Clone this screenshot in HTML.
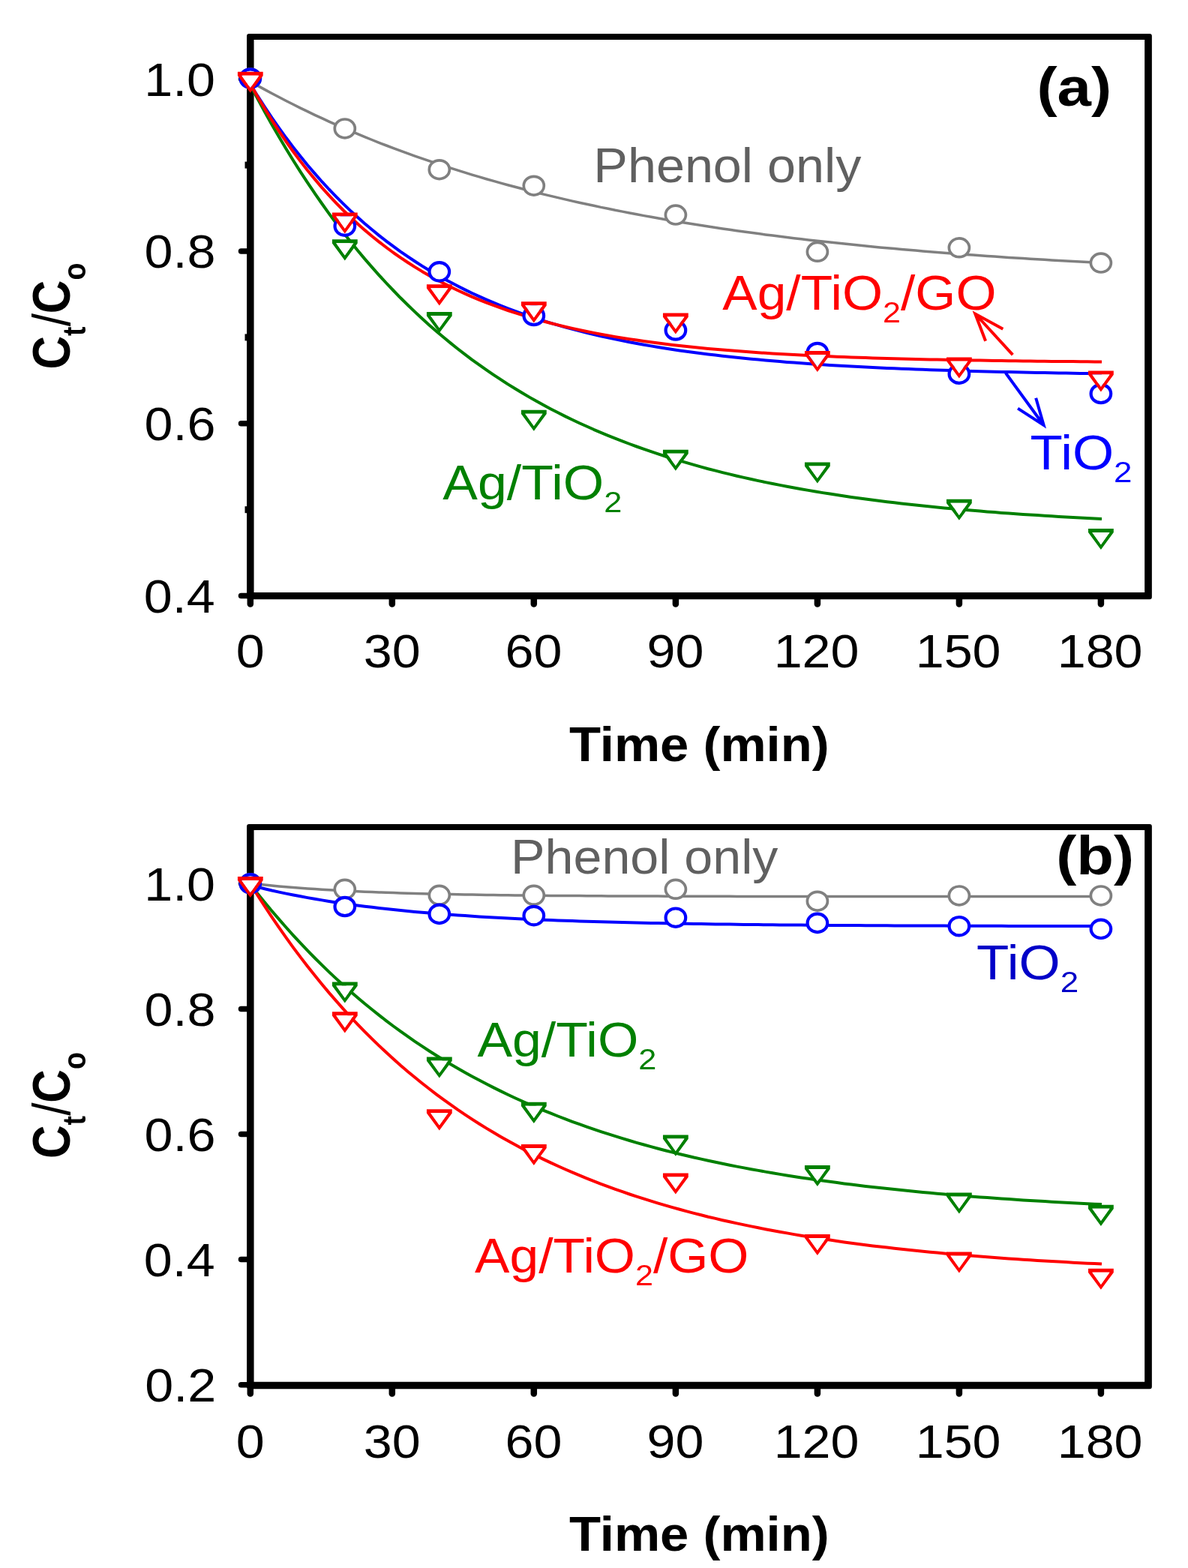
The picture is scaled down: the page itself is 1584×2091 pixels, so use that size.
<!DOCTYPE html>
<html><head><meta charset="utf-8"><title>Figure</title>
<style>html,body{margin:0;padding:0;background:#fff;}body{width:1584px;height:2091px;overflow:hidden;}</style>
</head><body>
<svg width="1584" height="2091" viewBox="0 0 1584 2091" style="display:block">
<rect width="1584" height="2091" fill="#fff"/>
<g font-family='"Liberation Sans", Arial, sans-serif'>
<path d="M332.05 45.00 H1532.85 Q1535.85 45.00 1535.85 48.00 V796.25 Q1535.85 799.25 1532.85 799.25 H332.05 Q329.05 799.25 329.05 796.25 V48.00 Q329.05 45.00 332.05 45.00 Z M338.55 53.00 H1526.15 V789.95 H338.55 Z" fill="#000" fill-rule="evenodd"/>
<g stroke="#000" stroke-linecap="round" fill="none">
<path d="M333.8 794.6 H321.5" stroke-width="7.5"/>
<path d="M333.8 564.8 H321.5" stroke-width="7.5"/>
<path d="M333.8 335.0 H321.5" stroke-width="7.5"/>
<path d="M333.8 105.2 H321.5" stroke-width="7.5"/>
<path d="M333.8 794.6 V805.6" stroke-width="8.5"/>
<path d="M522.8 794.6 V805.6" stroke-width="8.5"/>
<path d="M711.8 794.6 V805.6" stroke-width="8.5"/>
<path d="M900.9 794.6 V805.6" stroke-width="8.5"/>
<path d="M1089.9 794.6 V805.6" stroke-width="8.5"/>
<path d="M1278.9 794.6 V805.6" stroke-width="8.5"/>
<path d="M1467.9 794.6 V805.6" stroke-width="8.5"/>
</g>
<rect x="326.5" y="675.2" width="4" height="9" fill="#000"/>
<rect x="326.5" y="445.4" width="4" height="9" fill="#000"/>
<rect x="326.5" y="215.6" width="4" height="9" fill="#000"/>
<path d="M333.8 108.8 L343.3 114.1 L352.9 119.4 L362.4 124.5 L372.0 129.5 L381.5 134.5 L391.0 139.3 L400.6 144.1 L410.1 148.7 L419.7 153.3 L429.2 157.7 L438.7 162.1 L448.3 166.4 L457.8 170.5 L467.4 174.7 L476.9 178.7 L486.4 182.6 L496.0 186.5 L505.5 190.3 L515.1 194.0 L524.6 197.6 L534.1 201.2 L543.7 204.7 L553.2 208.1 L562.7 211.4 L572.3 214.7 L581.8 217.9 L591.4 221.1 L600.9 224.2 L610.4 227.2 L620.0 230.2 L629.5 233.1 L639.1 235.9 L648.6 238.7 L658.1 241.4 L667.7 244.1 L677.2 246.7 L686.8 249.3 L696.3 251.8 L705.8 254.3 L715.4 256.7 L724.9 259.1 L734.5 261.4 L744.0 263.6 L753.5 265.9 L763.1 268.1 L772.6 270.2 L782.2 272.3 L791.7 274.3 L801.2 276.4 L810.8 278.3 L820.3 280.3 L829.9 282.1 L839.4 284.0 L848.9 285.8 L858.5 287.6 L868.0 289.3 L877.6 291.0 L887.1 292.7 L896.6 294.4 L906.2 296.0 L915.7 297.5 L925.2 299.1 L934.8 300.6 L944.3 302.1 L953.9 303.5 L963.4 304.9 L972.9 306.3 L982.5 307.7 L992.0 309.0 L1001.6 310.3 L1011.1 311.6 L1020.6 312.9 L1030.2 314.1 L1039.7 315.3 L1049.3 316.5 L1058.8 317.7 L1068.3 318.8 L1077.9 319.9 L1087.4 321.0 L1097.0 322.1 L1106.5 323.1 L1116.0 324.1 L1125.6 325.1 L1135.1 326.1 L1144.7 327.1 L1154.2 328.0 L1163.7 329.0 L1173.3 329.9 L1182.8 330.8 L1192.4 331.6 L1201.9 332.5 L1211.4 333.3 L1221.0 334.1 L1230.5 334.9 L1240.1 335.7 L1249.6 336.5 L1259.1 337.2 L1268.7 338.0 L1278.2 338.7 L1287.7 339.4 L1297.3 340.1 L1306.8 340.8 L1316.4 341.5 L1325.9 342.1 L1335.4 342.8 L1345.0 343.4 L1354.5 344.0 L1364.1 344.6 L1373.6 345.2 L1383.1 345.8 L1392.7 346.3 L1402.2 346.9 L1411.8 347.4 L1421.3 348.0 L1430.8 348.5 L1440.4 349.0 L1449.9 349.5 L1459.5 350.0 L1469.0 350.5" fill="none" stroke="#808080" stroke-width="3.5" stroke-linejoin="round"/>
<path d="M333.8 113.3 L343.3 131.4 L352.9 149.0 L362.4 166.0 L372.0 182.5 L381.5 198.5 L391.0 214.0 L400.6 229.1 L410.1 243.6 L419.7 257.8 L429.2 271.5 L438.7 284.8 L448.3 297.7 L457.8 310.1 L467.4 322.3 L476.9 334.0 L486.4 345.4 L496.0 356.4 L505.5 367.1 L515.1 377.5 L524.6 387.5 L534.1 397.3 L543.7 406.7 L553.2 415.9 L562.7 424.8 L572.3 433.4 L581.8 441.7 L591.4 449.8 L600.9 457.6 L610.4 465.2 L620.0 472.6 L629.5 479.8 L639.1 486.7 L648.6 493.4 L658.1 499.9 L667.7 506.2 L677.2 512.4 L686.8 518.3 L696.3 524.0 L705.8 529.6 L715.4 535.0 L724.9 540.3 L734.5 545.4 L744.0 550.3 L753.5 555.1 L763.1 559.7 L772.6 564.2 L782.2 568.5 L791.7 572.8 L801.2 576.8 L810.8 580.8 L820.3 584.7 L829.9 588.4 L839.4 592.0 L848.9 595.5 L858.5 598.9 L868.0 602.2 L877.6 605.4 L887.1 608.5 L896.6 611.5 L906.2 614.4 L915.7 617.2 L925.2 619.9 L934.8 622.6 L944.3 625.2 L953.9 627.6 L963.4 630.1 L972.9 632.4 L982.5 634.7 L992.0 636.9 L1001.6 639.0 L1011.1 641.1 L1020.6 643.1 L1030.2 645.0 L1039.7 646.9 L1049.3 648.7 L1058.8 650.5 L1068.3 652.2 L1077.9 653.9 L1087.4 655.5 L1097.0 657.1 L1106.5 658.6 L1116.0 660.1 L1125.6 661.5 L1135.1 662.9 L1144.7 664.2 L1154.2 665.5 L1163.7 666.8 L1173.3 668.0 L1182.8 669.2 L1192.4 670.3 L1201.9 671.4 L1211.4 672.5 L1221.0 673.5 L1230.5 674.6 L1240.1 675.5 L1249.6 676.5 L1259.1 677.4 L1268.7 678.3 L1278.2 679.2 L1287.7 680.0 L1297.3 680.8 L1306.8 681.6 L1316.4 682.4 L1325.9 683.1 L1335.4 683.9 L1345.0 684.6 L1354.5 685.2 L1364.1 685.9 L1373.6 686.5 L1383.1 687.1 L1392.7 687.7 L1402.2 688.3 L1411.8 688.9 L1421.3 689.4 L1430.8 690.0 L1440.4 690.5 L1449.9 691.0 L1459.5 691.5 L1469.0 691.9" fill="none" stroke="#008000" stroke-width="4.0" stroke-linejoin="round"/>
<path d="M333.8 112.2 L343.3 127.7 L352.9 142.6 L362.4 156.9 L372.0 170.6 L381.5 183.8 L391.0 196.4 L400.6 208.6 L410.1 220.2 L419.7 231.4 L429.2 242.2 L438.7 252.5 L448.3 262.4 L457.8 271.9 L467.4 281.1 L476.9 289.8 L486.4 298.3 L496.0 306.3 L505.5 314.1 L515.1 321.6 L524.6 328.7 L534.1 335.6 L543.7 342.2 L553.2 348.5 L562.7 354.6 L572.3 360.5 L581.8 366.1 L591.4 371.5 L600.9 376.6 L610.4 381.6 L620.0 386.4 L629.5 391.0 L639.1 395.4 L648.6 399.6 L658.1 403.6 L667.7 407.5 L677.2 411.3 L686.8 414.9 L696.3 418.3 L705.8 421.6 L715.4 424.8 L724.9 427.8 L734.5 430.8 L744.0 433.6 L753.5 436.3 L763.1 438.9 L772.6 441.4 L782.2 443.7 L791.7 446.0 L801.2 448.2 L810.8 450.4 L820.3 452.4 L829.9 454.3 L839.4 456.2 L848.9 458.0 L858.5 459.7 L868.0 461.4 L877.6 463.0 L887.1 464.5 L896.6 466.0 L906.2 467.4 L915.7 468.7 L925.2 470.0 L934.8 471.3 L944.3 472.5 L953.9 473.6 L963.4 474.7 L972.9 475.8 L982.5 476.8 L992.0 477.8 L1001.6 478.7 L1011.1 479.6 L1020.6 480.5 L1030.2 481.3 L1039.7 482.1 L1049.3 482.9 L1058.8 483.6 L1068.3 484.3 L1077.9 485.0 L1087.4 485.7 L1097.0 486.3 L1106.5 486.9 L1116.0 487.5 L1125.6 488.0 L1135.1 488.6 L1144.7 489.1 L1154.2 489.6 L1163.7 490.0 L1173.3 490.5 L1182.8 490.9 L1192.4 491.3 L1201.9 491.7 L1211.4 492.1 L1221.0 492.5 L1230.5 492.8 L1240.1 493.2 L1249.6 493.5 L1259.1 493.8 L1268.7 494.1 L1278.2 494.4 L1287.7 494.7 L1297.3 494.9 L1306.8 495.2 L1316.4 495.5 L1325.9 495.7 L1335.4 495.9 L1345.0 496.1 L1354.5 496.3 L1364.1 496.5 L1373.6 496.7 L1383.1 496.9 L1392.7 497.1 L1402.2 497.3 L1411.8 497.4 L1421.3 497.6 L1430.8 497.7 L1440.4 497.9 L1449.9 498.0 L1459.5 498.2 L1469.0 498.3" fill="none" stroke="#0000ff" stroke-width="4.0" stroke-linejoin="round"/>
<path d="M333.8 111.8 L343.3 128.7 L352.9 144.8 L362.4 160.2 L372.0 174.9 L381.5 188.9 L391.0 202.3 L400.6 215.1 L410.1 227.3 L419.7 238.9 L429.2 250.1 L438.7 260.7 L448.3 270.8 L457.8 280.5 L467.4 289.7 L476.9 298.5 L486.4 306.9 L496.0 315.0 L505.5 322.6 L515.1 330.0 L524.6 337.0 L534.1 343.6 L543.7 350.0 L553.2 356.1 L562.7 361.9 L572.3 367.4 L581.8 372.7 L591.4 377.7 L600.9 382.6 L610.4 387.2 L620.0 391.6 L629.5 395.8 L639.1 399.8 L648.6 403.6 L658.1 407.2 L667.7 410.7 L677.2 414.0 L686.8 417.2 L696.3 420.2 L705.8 423.1 L715.4 425.9 L724.9 428.5 L734.5 431.0 L744.0 433.4 L753.5 435.7 L763.1 437.9 L772.6 440.0 L782.2 442.0 L791.7 443.9 L801.2 445.7 L810.8 447.4 L820.3 449.1 L829.9 450.7 L839.4 452.2 L848.9 453.6 L858.5 455.0 L868.0 456.3 L877.6 457.6 L887.1 458.8 L896.6 459.9 L906.2 461.0 L915.7 462.0 L925.2 463.0 L934.8 464.0 L944.3 464.9 L953.9 465.7 L963.4 466.6 L972.9 467.3 L982.5 468.1 L992.0 468.8 L1001.6 469.5 L1011.1 470.2 L1020.6 470.8 L1030.2 471.4 L1039.7 471.9 L1049.3 472.5 L1058.8 473.0 L1068.3 473.5 L1077.9 474.0 L1087.4 474.4 L1097.0 474.9 L1106.5 475.3 L1116.0 475.7 L1125.6 476.0 L1135.1 476.4 L1144.7 476.7 L1154.2 477.1 L1163.7 477.4 L1173.3 477.7 L1182.8 477.9 L1192.4 478.2 L1201.9 478.5 L1211.4 478.7 L1221.0 479.0 L1230.5 479.2 L1240.1 479.4 L1249.6 479.6 L1259.1 479.8 L1268.7 480.0 L1278.2 480.2 L1287.7 480.3 L1297.3 480.5 L1306.8 480.6 L1316.4 480.8 L1325.9 480.9 L1335.4 481.1 L1345.0 481.2 L1354.5 481.3 L1364.1 481.4 L1373.6 481.5 L1383.1 481.7 L1392.7 481.8 L1402.2 481.9 L1411.8 481.9 L1421.3 482.0 L1430.8 482.1 L1440.4 482.2 L1449.9 482.3 L1459.5 482.4 L1469.0 482.4" fill="none" stroke="#ff0000" stroke-width="4.0" stroke-linejoin="round"/>
<ellipse cx="333.8" cy="104.5" rx="13.52" ry="12.40" fill="#fff" stroke="#808080" stroke-width="3.7"/>
<ellipse cx="459.8" cy="171.4" rx="13.52" ry="12.40" fill="#fff" stroke="#808080" stroke-width="3.7"/>
<ellipse cx="585.8" cy="226.2" rx="13.52" ry="12.40" fill="#fff" stroke="#808080" stroke-width="3.7"/>
<ellipse cx="711.8" cy="247.7" rx="13.52" ry="12.40" fill="#fff" stroke="#808080" stroke-width="3.7"/>
<ellipse cx="900.9" cy="286.6" rx="13.52" ry="12.40" fill="#fff" stroke="#808080" stroke-width="3.7"/>
<ellipse cx="1089.9" cy="335.8" rx="13.52" ry="12.40" fill="#fff" stroke="#808080" stroke-width="3.7"/>
<ellipse cx="1278.9" cy="330.3" rx="13.52" ry="12.40" fill="#fff" stroke="#808080" stroke-width="3.7"/>
<ellipse cx="1467.9" cy="350.6" rx="13.52" ry="12.40" fill="#fff" stroke="#808080" stroke-width="3.7"/>
<path d="M442.91 319.30 L476.71 319.30 L476.71 324.50 L459.81 347.40 L442.91 324.50 Z M448.21 324.30 L471.41 324.30 L459.81 340.60 Z" fill="#008000" fill-rule="evenodd"/>
<path d="M448.21 324.30 L471.41 324.30 L459.81 340.60 Z" fill="#fff"/>
<path d="M568.92 416.00 L602.72 416.00 L602.72 421.20 L585.82 444.10 L568.92 421.20 Z M574.22 421.00 L597.42 421.00 L585.82 437.30 Z" fill="#008000" fill-rule="evenodd"/>
<path d="M574.22 421.00 L597.42 421.00 L585.82 437.30 Z" fill="#fff"/>
<path d="M694.93 546.70 L728.73 546.70 L728.73 551.90 L711.83 574.80 L694.93 551.90 Z M700.23 551.70 L723.43 551.70 L711.83 568.00 Z" fill="#008000" fill-rule="evenodd"/>
<path d="M700.23 551.70 L723.43 551.70 L711.83 568.00 Z" fill="#fff"/>
<path d="M883.95 599.70 L917.75 599.70 L917.75 604.90 L900.85 627.80 L883.95 604.90 Z M889.25 604.70 L912.45 604.70 L900.85 621.00 Z" fill="#008000" fill-rule="evenodd"/>
<path d="M889.25 604.70 L912.45 604.70 L900.85 621.00 Z" fill="#fff"/>
<path d="M1072.97 616.50 L1106.77 616.50 L1106.77 621.70 L1089.87 644.60 L1072.97 621.70 Z M1078.27 621.50 L1101.47 621.50 L1089.87 637.80 Z" fill="#008000" fill-rule="evenodd"/>
<path d="M1078.27 621.50 L1101.47 621.50 L1089.87 637.80 Z" fill="#fff"/>
<path d="M1261.98 665.70 L1295.78 665.70 L1295.78 670.90 L1278.88 693.80 L1261.98 670.90 Z M1267.28 670.70 L1290.48 670.70 L1278.88 687.00 Z" fill="#008000" fill-rule="evenodd"/>
<path d="M1267.28 670.70 L1290.48 670.70 L1278.88 687.00 Z" fill="#fff"/>
<path d="M1451.00 704.90 L1484.80 704.90 L1484.80 710.10 L1467.90 733.00 L1451.00 710.10 Z M1456.30 709.90 L1479.50 709.90 L1467.90 726.20 Z" fill="#008000" fill-rule="evenodd"/>
<path d="M1456.30 709.90 L1479.50 709.90 L1467.90 726.20 Z" fill="#fff"/>
<ellipse cx="333.8" cy="104.5" rx="13.30" ry="12.20" fill="#fff" stroke="#0000ff" stroke-width="4.2"/>
<ellipse cx="459.8" cy="301.6" rx="13.30" ry="12.20" fill="#fff" stroke="#0000ff" stroke-width="4.2"/>
<ellipse cx="585.8" cy="362.3" rx="13.30" ry="12.20" fill="#fff" stroke="#0000ff" stroke-width="4.2"/>
<ellipse cx="711.8" cy="421.0" rx="13.30" ry="12.20" fill="#fff" stroke="#0000ff" stroke-width="4.2"/>
<ellipse cx="900.9" cy="440.5" rx="13.30" ry="12.20" fill="#fff" stroke="#0000ff" stroke-width="4.2"/>
<ellipse cx="1089.9" cy="470.0" rx="13.30" ry="12.20" fill="#fff" stroke="#0000ff" stroke-width="4.2"/>
<ellipse cx="1278.9" cy="498.7" rx="13.30" ry="12.20" fill="#fff" stroke="#0000ff" stroke-width="4.2"/>
<ellipse cx="1467.9" cy="525.0" rx="13.30" ry="12.20" fill="#fff" stroke="#0000ff" stroke-width="4.2"/>
<path d="M316.90 95.70 L350.70 95.70 L350.70 100.90 L333.80 123.80 L316.90 100.90 Z M322.20 100.70 L345.40 100.70 L333.80 117.00 Z" fill="#ff0000" fill-rule="evenodd"/>
<path d="M322.20 100.70 L345.40 100.70 L333.80 117.00 Z" fill="#fff"/>
<path d="M442.91 283.40 L476.71 283.40 L476.71 288.60 L459.81 311.50 L442.91 288.60 Z M448.21 288.40 L471.41 288.40 L459.81 304.70 Z" fill="#ff0000" fill-rule="evenodd"/>
<path d="M448.21 288.40 L471.41 288.40 L459.81 304.70 Z" fill="#fff"/>
<path d="M568.92 379.30 L602.72 379.30 L602.72 384.50 L585.82 407.40 L568.92 384.50 Z M574.22 384.30 L597.42 384.30 L585.82 400.60 Z" fill="#ff0000" fill-rule="evenodd"/>
<path d="M574.22 384.30 L597.42 384.30 L585.82 400.60 Z" fill="#fff"/>
<path d="M694.93 402.30 L728.73 402.30 L728.73 407.50 L711.83 430.40 L694.93 407.50 Z M700.23 407.30 L723.43 407.30 L711.83 423.60 Z" fill="#ff0000" fill-rule="evenodd"/>
<path d="M700.23 407.30 L723.43 407.30 L711.83 423.60 Z" fill="#fff"/>
<path d="M883.95 417.50 L917.75 417.50 L917.75 422.70 L900.85 445.60 L883.95 422.70 Z M889.25 422.50 L912.45 422.50 L900.85 438.80 Z" fill="#ff0000" fill-rule="evenodd"/>
<path d="M889.25 422.50 L912.45 422.50 L900.85 438.80 Z" fill="#fff"/>
<path d="M1072.97 467.90 L1106.77 467.90 L1106.77 473.10 L1089.87 496.00 L1072.97 473.10 Z M1078.27 472.90 L1101.47 472.90 L1089.87 489.20 Z" fill="#ff0000" fill-rule="evenodd"/>
<path d="M1078.27 472.90 L1101.47 472.90 L1089.87 489.20 Z" fill="#fff"/>
<path d="M1261.98 476.40 L1295.78 476.40 L1295.78 481.60 L1278.88 504.50 L1261.98 481.60 Z M1267.28 481.40 L1290.48 481.40 L1278.88 497.70 Z" fill="#ff0000" fill-rule="evenodd"/>
<path d="M1267.28 481.40 L1290.48 481.40 L1278.88 497.70 Z" fill="#fff"/>
<path d="M1451.00 494.50 L1484.80 494.50 L1484.80 499.70 L1467.90 522.60 L1451.00 499.70 Z M1456.30 499.50 L1479.50 499.50 L1467.90 515.80 Z" fill="#ff0000" fill-rule="evenodd"/>
<path d="M1456.30 499.50 L1479.50 499.50 L1467.90 515.80 Z" fill="#fff"/>
<path d="M332.05 1099.00 H1532.85 Q1535.85 1099.00 1535.85 1102.00 V1849.15 Q1535.85 1852.15 1532.85 1852.15 H332.05 Q329.05 1852.15 329.05 1849.15 V1102.00 Q329.05 1099.00 332.05 1099.00 Z M338.55 1107.00 H1526.15 V1842.85 H338.55 Z" fill="#000" fill-rule="evenodd"/>
<g stroke="#000" stroke-linecap="round" fill="none">
<path d="M333.8 1846.7 H321.5" stroke-width="7.5"/>
<path d="M333.8 1679.6 H321.5" stroke-width="7.5"/>
<path d="M333.8 1512.5 H321.5" stroke-width="7.5"/>
<path d="M333.8 1345.4 H321.5" stroke-width="7.5"/>
<path d="M333.8 1178.3 H321.5" stroke-width="7.5"/>
<path d="M333.8 1847.5 V1858.5" stroke-width="8.5"/>
<path d="M522.8 1847.5 V1858.5" stroke-width="8.5"/>
<path d="M711.8 1847.5 V1858.5" stroke-width="8.5"/>
<path d="M900.9 1847.5 V1858.5" stroke-width="8.5"/>
<path d="M1089.9 1847.5 V1858.5" stroke-width="8.5"/>
<path d="M1278.9 1847.5 V1858.5" stroke-width="8.5"/>
<path d="M1467.9 1847.5 V1858.5" stroke-width="8.5"/>
</g>
<path d="M333.8 1178.0 L343.3 1179.1 L352.9 1180.1 L362.4 1181.0 L372.0 1181.9 L381.5 1182.8 L391.0 1183.5 L400.6 1184.3 L410.1 1185.0 L419.7 1185.6 L429.2 1186.2 L438.7 1186.8 L448.3 1187.3 L457.8 1187.8 L467.4 1188.3 L476.9 1188.8 L486.4 1189.2 L496.0 1189.6 L505.5 1189.9 L515.1 1190.3 L524.6 1190.6 L534.1 1190.9 L543.7 1191.2 L553.2 1191.5 L562.7 1191.7 L572.3 1192.0 L581.8 1192.2 L591.4 1192.4 L600.9 1192.6 L610.4 1192.8 L620.0 1192.9 L629.5 1193.1 L639.1 1193.3 L648.6 1193.4 L658.1 1193.5 L667.7 1193.7 L677.2 1193.8 L686.8 1193.9 L696.3 1194.0 L705.8 1194.1 L715.4 1194.2 L724.9 1194.3 L734.5 1194.4 L744.0 1194.4 L753.5 1194.5 L763.1 1194.6 L772.6 1194.6 L782.2 1194.7 L791.7 1194.7 L801.2 1194.8 L810.8 1194.9 L820.3 1194.9 L829.9 1194.9 L839.4 1195.0 L848.9 1195.0 L858.5 1195.1 L868.0 1195.1 L877.6 1195.1 L887.1 1195.2 L896.6 1195.2 L906.2 1195.2 L915.7 1195.2 L925.2 1195.3 L934.8 1195.3 L944.3 1195.3 L953.9 1195.3 L963.4 1195.3 L972.9 1195.3 L982.5 1195.4 L992.0 1195.4 L1001.6 1195.4 L1011.1 1195.4 L1020.6 1195.4 L1030.2 1195.4 L1039.7 1195.4 L1049.3 1195.5 L1058.8 1195.5 L1068.3 1195.5 L1077.9 1195.5 L1087.4 1195.5 L1097.0 1195.5 L1106.5 1195.5 L1116.0 1195.5 L1125.6 1195.5 L1135.1 1195.5 L1144.7 1195.5 L1154.2 1195.5 L1163.7 1195.5 L1173.3 1195.5 L1182.8 1195.5 L1192.4 1195.5 L1201.9 1195.6 L1211.4 1195.6 L1221.0 1195.6 L1230.5 1195.6 L1240.1 1195.6 L1249.6 1195.6 L1259.1 1195.6 L1268.7 1195.6 L1278.2 1195.6 L1287.7 1195.6 L1297.3 1195.6 L1306.8 1195.6 L1316.4 1195.6 L1325.9 1195.6 L1335.4 1195.6 L1345.0 1195.6 L1354.5 1195.6 L1364.1 1195.6 L1373.6 1195.6 L1383.1 1195.6 L1392.7 1195.6 L1402.2 1195.6 L1411.8 1195.6 L1421.3 1195.6 L1430.8 1195.6 L1440.4 1195.6 L1449.9 1195.6 L1459.5 1195.6 L1469.0 1195.6" fill="none" stroke="#808080" stroke-width="3.5" stroke-linejoin="round"/>
<path d="M333.8 1180.5 L343.3 1182.9 L352.9 1185.2 L362.4 1187.5 L372.0 1189.6 L381.5 1191.6 L391.0 1193.5 L400.6 1195.3 L410.1 1197.1 L419.7 1198.8 L429.2 1200.4 L438.7 1201.9 L448.3 1203.4 L457.8 1204.8 L467.4 1206.2 L476.9 1207.4 L486.4 1208.7 L496.0 1209.8 L505.5 1211.0 L515.1 1212.0 L524.6 1213.1 L534.1 1214.0 L543.7 1215.0 L553.2 1215.9 L562.7 1216.7 L572.3 1217.6 L581.8 1218.3 L591.4 1219.1 L600.9 1219.8 L610.4 1220.5 L620.0 1221.1 L629.5 1221.8 L639.1 1222.4 L648.6 1222.9 L658.1 1223.5 L667.7 1224.0 L677.2 1224.5 L686.8 1225.0 L696.3 1225.4 L705.8 1225.9 L715.4 1226.3 L724.9 1226.7 L734.5 1227.1 L744.0 1227.4 L753.5 1227.8 L763.1 1228.1 L772.6 1228.4 L782.2 1228.7 L791.7 1229.0 L801.2 1229.3 L810.8 1229.6 L820.3 1229.8 L829.9 1230.1 L839.4 1230.3 L848.9 1230.5 L858.5 1230.7 L868.0 1230.9 L877.6 1231.1 L887.1 1231.3 L896.6 1231.5 L906.2 1231.7 L915.7 1231.8 L925.2 1232.0 L934.8 1232.1 L944.3 1232.3 L953.9 1232.4 L963.4 1232.5 L972.9 1232.6 L982.5 1232.8 L992.0 1232.9 L1001.6 1233.0 L1011.1 1233.1 L1020.6 1233.2 L1030.2 1233.3 L1039.7 1233.4 L1049.3 1233.5 L1058.8 1233.5 L1068.3 1233.6 L1077.9 1233.7 L1087.4 1233.8 L1097.0 1233.8 L1106.5 1233.9 L1116.0 1234.0 L1125.6 1234.0 L1135.1 1234.1 L1144.7 1234.1 L1154.2 1234.2 L1163.7 1234.2 L1173.3 1234.3 L1182.8 1234.3 L1192.4 1234.4 L1201.9 1234.4 L1211.4 1234.5 L1221.0 1234.5 L1230.5 1234.5 L1240.1 1234.6 L1249.6 1234.6 L1259.1 1234.6 L1268.7 1234.7 L1278.2 1234.7 L1287.7 1234.7 L1297.3 1234.7 L1306.8 1234.8 L1316.4 1234.8 L1325.9 1234.8 L1335.4 1234.8 L1345.0 1234.9 L1354.5 1234.9 L1364.1 1234.9 L1373.6 1234.9 L1383.1 1234.9 L1392.7 1235.0 L1402.2 1235.0 L1411.8 1235.0 L1421.3 1235.0 L1430.8 1235.0 L1440.4 1235.0 L1449.9 1235.0 L1459.5 1235.1 L1469.0 1235.1" fill="none" stroke="#0000ff" stroke-width="4.0" stroke-linejoin="round"/>
<path d="M333.8 1179.2 L343.3 1191.4 L352.9 1203.2 L362.4 1214.7 L372.0 1225.9 L381.5 1236.8 L391.0 1247.4 L400.6 1257.7 L410.1 1267.7 L419.7 1277.5 L429.2 1286.9 L438.7 1296.1 L448.3 1305.1 L457.8 1313.8 L467.4 1322.3 L476.9 1330.5 L486.4 1338.5 L496.0 1346.3 L505.5 1353.9 L515.1 1361.3 L524.6 1368.5 L534.1 1375.4 L543.7 1382.2 L553.2 1388.8 L562.7 1395.2 L572.3 1401.5 L581.8 1407.5 L591.4 1413.4 L600.9 1419.2 L610.4 1424.7 L620.0 1430.2 L629.5 1435.4 L639.1 1440.6 L648.6 1445.6 L658.1 1450.4 L667.7 1455.1 L677.2 1459.7 L686.8 1464.2 L696.3 1468.5 L705.8 1472.8 L715.4 1476.9 L724.9 1480.9 L734.5 1484.7 L744.0 1488.5 L753.5 1492.2 L763.1 1495.8 L772.6 1499.2 L782.2 1502.6 L791.7 1505.9 L801.2 1509.1 L810.8 1512.2 L820.3 1515.2 L829.9 1518.2 L839.4 1521.0 L848.9 1523.8 L858.5 1526.5 L868.0 1529.1 L877.6 1531.7 L887.1 1534.2 L896.6 1536.6 L906.2 1539.0 L915.7 1541.2 L925.2 1543.5 L934.8 1545.6 L944.3 1547.7 L953.9 1549.8 L963.4 1551.8 L972.9 1553.7 L982.5 1555.6 L992.0 1557.4 L1001.6 1559.2 L1011.1 1560.9 L1020.6 1562.6 L1030.2 1564.3 L1039.7 1565.9 L1049.3 1567.4 L1058.8 1568.9 L1068.3 1570.4 L1077.9 1571.8 L1087.4 1573.2 L1097.0 1574.5 L1106.5 1575.8 L1116.0 1577.1 L1125.6 1578.4 L1135.1 1579.6 L1144.7 1580.7 L1154.2 1581.9 L1163.7 1583.0 L1173.3 1584.1 L1182.8 1585.1 L1192.4 1586.1 L1201.9 1587.1 L1211.4 1588.1 L1221.0 1589.0 L1230.5 1589.9 L1240.1 1590.8 L1249.6 1591.7 L1259.1 1592.5 L1268.7 1593.4 L1278.2 1594.1 L1287.7 1594.9 L1297.3 1595.7 L1306.8 1596.4 L1316.4 1597.1 L1325.9 1597.8 L1335.4 1598.5 L1345.0 1599.1 L1354.5 1599.8 L1364.1 1600.4 L1373.6 1601.0 L1383.1 1601.6 L1392.7 1602.1 L1402.2 1602.7 L1411.8 1603.2 L1421.3 1603.7 L1430.8 1604.3 L1440.4 1604.7 L1449.9 1605.2 L1459.5 1605.7 L1469.0 1606.1" fill="none" stroke="#008000" stroke-width="4.0" stroke-linejoin="round"/>
<path d="M333.8 1178.4 L343.3 1193.7 L352.9 1208.5 L362.4 1222.9 L372.0 1236.9 L381.5 1250.4 L391.0 1263.6 L400.6 1276.4 L410.1 1288.8 L419.7 1300.8 L429.2 1312.5 L438.7 1323.9 L448.3 1334.9 L457.8 1345.6 L467.4 1356.0 L476.9 1366.1 L486.4 1375.9 L496.0 1385.4 L505.5 1394.6 L515.1 1403.5 L524.6 1412.2 L534.1 1420.7 L543.7 1428.9 L553.2 1436.8 L562.7 1444.5 L572.3 1452.0 L581.8 1459.3 L591.4 1466.4 L600.9 1473.2 L610.4 1479.9 L620.0 1486.3 L629.5 1492.6 L639.1 1498.7 L648.6 1504.6 L658.1 1510.3 L667.7 1515.9 L677.2 1521.3 L686.8 1526.6 L696.3 1531.7 L705.8 1536.6 L715.4 1541.4 L724.9 1546.1 L734.5 1550.6 L744.0 1555.0 L753.5 1559.3 L763.1 1563.4 L772.6 1567.4 L782.2 1571.3 L791.7 1575.1 L801.2 1578.8 L810.8 1582.4 L820.3 1585.8 L829.9 1589.2 L839.4 1592.5 L848.9 1595.6 L858.5 1598.7 L868.0 1601.7 L877.6 1604.6 L887.1 1607.4 L896.6 1610.1 L906.2 1612.8 L915.7 1615.4 L925.2 1617.9 L934.8 1620.3 L944.3 1622.7 L953.9 1624.9 L963.4 1627.2 L972.9 1629.3 L982.5 1631.4 L992.0 1633.4 L1001.6 1635.4 L1011.1 1637.3 L1020.6 1639.2 L1030.2 1641.0 L1039.7 1642.7 L1049.3 1644.4 L1058.8 1646.1 L1068.3 1647.7 L1077.9 1649.2 L1087.4 1650.8 L1097.0 1652.2 L1106.5 1653.6 L1116.0 1655.0 L1125.6 1656.4 L1135.1 1657.7 L1144.7 1658.9 L1154.2 1660.2 L1163.7 1661.4 L1173.3 1662.5 L1182.8 1663.6 L1192.4 1664.7 L1201.9 1665.8 L1211.4 1666.8 L1221.0 1667.8 L1230.5 1668.8 L1240.1 1669.7 L1249.6 1670.6 L1259.1 1671.5 L1268.7 1672.4 L1278.2 1673.2 L1287.7 1674.0 L1297.3 1674.8 L1306.8 1675.6 L1316.4 1676.3 L1325.9 1677.0 L1335.4 1677.7 L1345.0 1678.4 L1354.5 1679.1 L1364.1 1679.7 L1373.6 1680.3 L1383.1 1680.9 L1392.7 1681.5 L1402.2 1682.1 L1411.8 1682.6 L1421.3 1683.1 L1430.8 1683.7 L1440.4 1684.2 L1449.9 1684.7 L1459.5 1685.1 L1469.0 1685.6" fill="none" stroke="#ff0000" stroke-width="4.0" stroke-linejoin="round"/>
<ellipse cx="333.8" cy="1178.3" rx="13.52" ry="12.40" fill="#fff" stroke="#808080" stroke-width="3.7"/>
<ellipse cx="459.8" cy="1185.8" rx="13.52" ry="12.40" fill="#fff" stroke="#808080" stroke-width="3.7"/>
<ellipse cx="585.8" cy="1193.8" rx="13.52" ry="12.40" fill="#fff" stroke="#808080" stroke-width="3.7"/>
<ellipse cx="711.8" cy="1193.8" rx="13.52" ry="12.40" fill="#fff" stroke="#808080" stroke-width="3.7"/>
<ellipse cx="900.9" cy="1185.8" rx="13.52" ry="12.40" fill="#fff" stroke="#808080" stroke-width="3.7"/>
<ellipse cx="1089.9" cy="1201.7" rx="13.52" ry="12.40" fill="#fff" stroke="#808080" stroke-width="3.7"/>
<ellipse cx="1278.9" cy="1194.4" rx="13.52" ry="12.40" fill="#fff" stroke="#808080" stroke-width="3.7"/>
<ellipse cx="1467.9" cy="1194.4" rx="13.52" ry="12.40" fill="#fff" stroke="#808080" stroke-width="3.7"/>
<ellipse cx="333.8" cy="1178.3" rx="13.30" ry="12.20" fill="#fff" stroke="#0000ff" stroke-width="4.2"/>
<ellipse cx="459.8" cy="1209.0" rx="13.30" ry="12.20" fill="#fff" stroke="#0000ff" stroke-width="4.2"/>
<ellipse cx="585.8" cy="1218.9" rx="13.30" ry="12.20" fill="#fff" stroke="#0000ff" stroke-width="4.2"/>
<ellipse cx="711.8" cy="1221.1" rx="13.30" ry="12.20" fill="#fff" stroke="#0000ff" stroke-width="4.2"/>
<ellipse cx="900.9" cy="1223.7" rx="13.30" ry="12.20" fill="#fff" stroke="#0000ff" stroke-width="4.2"/>
<ellipse cx="1089.9" cy="1230.9" rx="13.30" ry="12.20" fill="#fff" stroke="#0000ff" stroke-width="4.2"/>
<ellipse cx="1278.9" cy="1235.2" rx="13.30" ry="12.20" fill="#fff" stroke="#0000ff" stroke-width="4.2"/>
<ellipse cx="1467.9" cy="1238.8" rx="13.30" ry="12.20" fill="#fff" stroke="#0000ff" stroke-width="4.2"/>
<path d="M442.91 1309.50 L476.71 1309.50 L476.71 1314.70 L459.81 1337.60 L442.91 1314.70 Z M448.21 1314.50 L471.41 1314.50 L459.81 1330.80 Z" fill="#008000" fill-rule="evenodd"/>
<path d="M448.21 1314.50 L471.41 1314.50 L459.81 1330.80 Z" fill="#fff"/>
<path d="M568.92 1409.50 L602.72 1409.50 L602.72 1414.70 L585.82 1437.60 L568.92 1414.70 Z M574.22 1414.50 L597.42 1414.50 L585.82 1430.80 Z" fill="#008000" fill-rule="evenodd"/>
<path d="M574.22 1414.50 L597.42 1414.50 L585.82 1430.80 Z" fill="#fff"/>
<path d="M694.93 1469.80 L728.73 1469.80 L728.73 1475.00 L711.83 1497.90 L694.93 1475.00 Z M700.23 1474.80 L723.43 1474.80 L711.83 1491.10 Z" fill="#008000" fill-rule="evenodd"/>
<path d="M700.23 1474.80 L723.43 1474.80 L711.83 1491.10 Z" fill="#fff"/>
<path d="M883.95 1513.60 L917.75 1513.60 L917.75 1518.80 L900.85 1541.70 L883.95 1518.80 Z M889.25 1518.60 L912.45 1518.60 L900.85 1534.90 Z" fill="#008000" fill-rule="evenodd"/>
<path d="M889.25 1518.60 L912.45 1518.60 L900.85 1534.90 Z" fill="#fff"/>
<path d="M1072.97 1553.90 L1106.77 1553.90 L1106.77 1559.10 L1089.87 1582.00 L1072.97 1559.10 Z M1078.27 1558.90 L1101.47 1558.90 L1089.87 1575.20 Z" fill="#008000" fill-rule="evenodd"/>
<path d="M1078.27 1558.90 L1101.47 1558.90 L1089.87 1575.20 Z" fill="#fff"/>
<path d="M1261.98 1590.40 L1295.78 1590.40 L1295.78 1595.60 L1278.88 1618.50 L1261.98 1595.60 Z M1267.28 1595.40 L1290.48 1595.40 L1278.88 1611.70 Z" fill="#008000" fill-rule="evenodd"/>
<path d="M1267.28 1595.40 L1290.48 1595.40 L1278.88 1611.70 Z" fill="#fff"/>
<path d="M1451.00 1606.80 L1484.80 1606.80 L1484.80 1612.00 L1467.90 1634.90 L1451.00 1612.00 Z M1456.30 1611.80 L1479.50 1611.80 L1467.90 1628.10 Z" fill="#008000" fill-rule="evenodd"/>
<path d="M1456.30 1611.80 L1479.50 1611.80 L1467.90 1628.10 Z" fill="#fff"/>
<path d="M316.90 1168.90 L350.70 1168.90 L350.70 1174.10 L333.80 1197.00 L316.90 1174.10 Z M322.20 1173.90 L345.40 1173.90 L333.80 1190.20 Z" fill="#ff0000" fill-rule="evenodd"/>
<path d="M322.20 1173.90 L345.40 1173.90 L333.80 1190.20 Z" fill="#fff"/>
<path d="M442.91 1349.30 L476.71 1349.30 L476.71 1354.50 L459.81 1377.40 L442.91 1354.50 Z M448.21 1354.30 L471.41 1354.30 L459.81 1370.60 Z" fill="#ff0000" fill-rule="evenodd"/>
<path d="M448.21 1354.30 L471.41 1354.30 L459.81 1370.60 Z" fill="#fff"/>
<path d="M568.92 1479.30 L602.72 1479.30 L602.72 1484.50 L585.82 1507.40 L568.92 1484.50 Z M574.22 1484.30 L597.42 1484.30 L585.82 1500.60 Z" fill="#ff0000" fill-rule="evenodd"/>
<path d="M574.22 1484.30 L597.42 1484.30 L585.82 1500.60 Z" fill="#fff"/>
<path d="M694.93 1525.90 L728.73 1525.90 L728.73 1531.10 L711.83 1554.00 L694.93 1531.10 Z M700.23 1530.90 L723.43 1530.90 L711.83 1547.20 Z" fill="#ff0000" fill-rule="evenodd"/>
<path d="M700.23 1530.90 L723.43 1530.90 L711.83 1547.20 Z" fill="#fff"/>
<path d="M883.95 1564.50 L917.75 1564.50 L917.75 1569.70 L900.85 1592.60 L883.95 1569.70 Z M889.25 1569.50 L912.45 1569.50 L900.85 1585.80 Z" fill="#ff0000" fill-rule="evenodd"/>
<path d="M889.25 1569.50 L912.45 1569.50 L900.85 1585.80 Z" fill="#fff"/>
<path d="M1072.97 1645.90 L1106.77 1645.90 L1106.77 1651.10 L1089.87 1674.00 L1072.97 1651.10 Z M1078.27 1650.90 L1101.47 1650.90 L1089.87 1667.20 Z" fill="#ff0000" fill-rule="evenodd"/>
<path d="M1078.27 1650.90 L1101.47 1650.90 L1089.87 1667.20 Z" fill="#fff"/>
<path d="M1261.98 1669.40 L1295.78 1669.40 L1295.78 1674.60 L1278.88 1697.50 L1261.98 1674.60 Z M1267.28 1674.40 L1290.48 1674.40 L1278.88 1690.70 Z" fill="#ff0000" fill-rule="evenodd"/>
<path d="M1267.28 1674.40 L1290.48 1674.40 L1278.88 1690.70 Z" fill="#fff"/>
<path d="M1451.00 1691.70 L1484.80 1691.70 L1484.80 1696.90 L1467.90 1719.80 L1451.00 1696.90 Z M1456.30 1696.70 L1479.50 1696.70 L1467.90 1713.00 Z" fill="#ff0000" fill-rule="evenodd"/>
<path d="M1456.30 1696.70 L1479.50 1696.70 L1467.90 1713.00 Z" fill="#fff"/>
<text transform="translate(314.69 890.00) scale(1.0750 1)" font-size="63.50" fill="#000"><tspan font-weight="normal">0</tspan></text>
<text transform="translate(484.76 890.00) scale(1.0750 1)" font-size="63.50" fill="#000"><tspan font-weight="normal">30</tspan></text>
<text transform="translate(673.44 890.00) scale(1.0750 1)" font-size="63.50" fill="#000"><tspan font-weight="normal">60</tspan></text>
<text transform="translate(862.62 890.00) scale(1.0750 1)" font-size="63.50" fill="#000"><tspan font-weight="normal">90</tspan></text>
<text transform="translate(1031.67 890.00) scale(1.0750 1)" font-size="63.50" fill="#000"><tspan font-weight="normal">120</tspan></text>
<text transform="translate(1220.69 890.00) scale(1.0750 1)" font-size="63.50" fill="#000"><tspan font-weight="normal">150</tspan></text>
<text transform="translate(1409.71 890.00) scale(1.0750 1)" font-size="63.50" fill="#000"><tspan font-weight="normal">180</tspan></text>
<text transform="translate(191.86 816.90) scale(1.0750 1)" font-size="63.50" fill="#000"><tspan font-weight="normal">0.4</tspan></text>
<text transform="translate(192.55 587.10) scale(1.0750 1)" font-size="63.50" fill="#000"><tspan font-weight="normal">0.6</tspan></text>
<text transform="translate(192.55 357.30) scale(1.0750 1)" font-size="63.50" fill="#000"><tspan font-weight="normal">0.8</tspan></text>
<text transform="translate(192.20 127.50) scale(1.0750 1)" font-size="63.50" fill="#000"><tspan font-weight="normal">1.0</tspan></text>
<text transform="translate(314.69 1943.50) scale(1.0750 1)" font-size="63.50" fill="#000"><tspan font-weight="normal">0</tspan></text>
<text transform="translate(484.76 1943.50) scale(1.0750 1)" font-size="63.50" fill="#000"><tspan font-weight="normal">30</tspan></text>
<text transform="translate(673.44 1943.50) scale(1.0750 1)" font-size="63.50" fill="#000"><tspan font-weight="normal">60</tspan></text>
<text transform="translate(862.62 1943.50) scale(1.0750 1)" font-size="63.50" fill="#000"><tspan font-weight="normal">90</tspan></text>
<text transform="translate(1031.67 1943.50) scale(1.0750 1)" font-size="63.50" fill="#000"><tspan font-weight="normal">120</tspan></text>
<text transform="translate(1220.69 1943.50) scale(1.0750 1)" font-size="63.50" fill="#000"><tspan font-weight="normal">150</tspan></text>
<text transform="translate(1409.71 1943.50) scale(1.0750 1)" font-size="63.50" fill="#000"><tspan font-weight="normal">180</tspan></text>
<text transform="translate(193.23 1869.00) scale(1.0750 1)" font-size="63.50" fill="#000"><tspan font-weight="normal">0.2</tspan></text>
<text transform="translate(191.86 1701.90) scale(1.0750 1)" font-size="63.50" fill="#000"><tspan font-weight="normal">0.4</tspan></text>
<text transform="translate(192.55 1534.80) scale(1.0750 1)" font-size="63.50" fill="#000"><tspan font-weight="normal">0.6</tspan></text>
<text transform="translate(192.55 1367.70) scale(1.0750 1)" font-size="63.50" fill="#000"><tspan font-weight="normal">0.8</tspan></text>
<text transform="translate(192.20 1200.60) scale(1.0750 1)" font-size="63.50" fill="#000"><tspan font-weight="normal">1.0</tspan></text>
<text transform="translate(791.33 242.90) scale(1.0675 1)" font-size="64.00" fill="#606060"><tspan font-weight="normal">Phenol only</tspan></text>
<text transform="translate(963.30 412.80) scale(1.0864 1)" font-size="64.00" fill="#ff0000"><tspan font-weight="normal">Ag/TiO</tspan><tspan font-size="39.68" font-weight="normal" dy="17.28">2</tspan><tspan font-weight="normal" dy="-17.28">/GO</tspan></text>
<text transform="translate(1373.48 626.20) scale(1.1080 1)" font-size="64.00" fill="#0000ff"><tspan font-weight="normal">TiO</tspan><tspan font-size="39.68" font-weight="normal" dy="17.28">2</tspan></text>
<text transform="translate(590.30 665.80) scale(1.0919 1)" font-size="64.00" fill="#008000"><tspan font-weight="normal">Ag/TiO</tspan><tspan font-size="39.68" font-weight="normal" dy="17.28">2</tspan></text>
<text transform="translate(681.04 1165.20) scale(1.0660 1)" font-size="64.00" fill="#606060"><tspan font-weight="normal">Phenol only</tspan></text>
<text transform="translate(1302.08 1306.00) scale(1.1080 1)" font-size="64.00" fill="#0000c8"><tspan font-weight="normal">TiO</tspan><tspan font-size="39.68" font-weight="normal" dy="17.28">2</tspan></text>
<text transform="translate(636.40 1409.10) scale(1.0919 1)" font-size="64.00" fill="#008000"><tspan font-weight="normal">Ag/TiO</tspan><tspan font-size="39.68" font-weight="normal" dy="17.28">2</tspan></text>
<text transform="translate(633.10 1696.90) scale(1.0867 1)" font-size="64.00" fill="#ff0000"><tspan font-weight="normal">Ag/TiO</tspan><tspan font-size="39.68" font-weight="normal" dy="17.28">2</tspan><tspan font-weight="normal" dy="-17.28">/GO</tspan></text>
<text transform="translate(1382.42 140.70) scale(1.1346 1)" font-size="72.00" fill="#000"><tspan font-weight="bold">(a)</tspan></text>
<text transform="translate(1408.23 1165.90) scale(1.1299 1)" font-size="72.00" fill="#000"><tspan font-weight="bold">(b)</tspan></text>
<text transform="translate(759.01 1014.50) scale(1.0587 1)" font-size="65.00" fill="#000"><tspan font-weight="bold">Time (min)</tspan></text>
<text transform="translate(759.01 2067.50) scale(1.0587 1)" font-size="65.00" fill="#000"><tspan font-weight="bold">Time (min)</tspan></text>
<g fill="none" stroke-width="4.0" stroke-linecap="butt" stroke-linejoin="miter">
<path d="M1350.3 473.2 L1300.3 418.5 M1337.3 438.7 L1300.3 418.5 L1314.1 454.7" stroke="#ff0000"/>
<path d="M1340.8 497.3 L1391.6 567 M1381.2 530.8 L1391.6 567 L1357.1 544.6" stroke="#0000ff"/>
</g>
<text transform="translate(92.8 492.55) rotate(-90) scale(1 1.139)" font-size="61.8" font-weight="bold" fill="#000"><tspan>C</tspan><tspan font-size="37.7" dy="18.2">t</tspan><tspan dy="-18.2" font-weight="normal">/</tspan><tspan>C</tspan><tspan font-size="37.7" dy="18.2">o</tspan></text>
<text transform="translate(92.8 1545.05) rotate(-90) scale(1 1.139)" font-size="61.8" font-weight="bold" fill="#000"><tspan>C</tspan><tspan font-size="37.7" dy="18.2">t</tspan><tspan dy="-18.2" font-weight="normal">/</tspan><tspan>C</tspan><tspan font-size="37.7" dy="18.2">o</tspan></text>
</g></svg>
</body></html>
